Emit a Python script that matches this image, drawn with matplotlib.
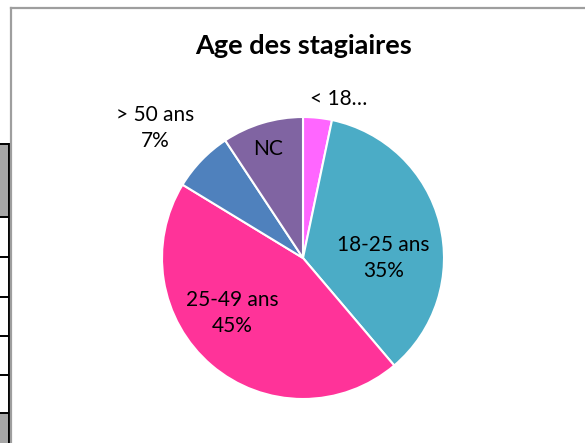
import numpy as np
import matplotlib.pyplot as plt
from matplotlib.patches import Rectangle
from matplotlib.lines import Line2D

# data
categories = ["< 18 ans", "18-25 ans", "25-49 ans", "> 50 ans", "NC"]
shares = [3.3, 35.5, 44.9, 7.0, 9.3]
colors = ["#FF66FF", "#4BACC6", "#FF3399", "#4F81BD", "#8064A2"]
label_text = ["< 18…", "18-25 ans\n35%", "25-49 ans\n45%", "> 50 ans\n7%", "NC"]

# label positions in pie radius units (Excel "best fit" placement)
label_pos = [(0.25, 1.13), (0.57, 0.0), (-0.50, -0.39), (-1.05, 0.92), (-0.25, 0.77)]

W, H = 585, 443
FONT = ["Lato", "DejaVu Sans"]

fig = plt.figure(figsize=(W / 100, H / 100), dpi=100)
fig.patch.set_facecolor("white")


def px(x, y):
    # pixel coords (origin top-left) -> figure fraction
    return x / W, 1 - y / H


# spreadsheet table fragment on the left
rows_y = [144, 217, 257, 297, 336, 375, 413]
for y0, y1 in [(144, 217), (413, 443)]:
    fig.add_artist(Rectangle(px(0, y1), 9 / W, (y1 - y0) / H,
                             transform=fig.transFigure, facecolor="#A6A6A6",
                             edgecolor="none"))
for y in rows_y:
    fig.add_artist(Line2D([0, 9 / W], [1 - y / H] * 2, transform=fig.transFigure,
                          color="black", linewidth=1.4))
fig.add_artist(Line2D([8.5 / W] * 2, [0, 1 - 144 / H], transform=fig.transFigure,
                      color="black", linewidth=1.4))

# chart area border
fig.add_artist(Line2D([11 / W] * 2, [0, 1 - 8 / H], transform=fig.transFigure,
                      color="#9E9E9E", linewidth=1.6))
fig.add_artist(Line2D([11 / W, 1], [1 - 8 / H] * 2, transform=fig.transFigure,
                      color="#9E9E9E", linewidth=1.6))

# pie axes: centre (303, 258), radius 141 px
cx, cy, r = 303, 258, 141
ax = fig.add_axes([(cx - r) / W, 1 - (cy + r) / H, 2 * r / W, 2 * r / H])
ax.pie(shares, colors=colors, startangle=90, counterclock=False,
       wedgeprops=dict(edgecolor="white", linewidth=1.5))
ax.set_xlim(-1, 1)
ax.set_ylim(-1, 1)
ax.set_aspect("equal")
ax.axis("off")

for txt, (lx, ly) in zip(label_text, label_pos):
    ax.text(lx, ly, txt, ha="center", va="center", fontsize=15,
            family=FONT, linespacing=1.4, clip_on=False)

fig.text(304 / W, 1 - 46 / H, "Age des stagiaires", ha="center", va="center",
         fontsize=19.5, fontweight="bold", family=FONT)

fig.savefig("out.png", dpi=100, facecolor="white")
